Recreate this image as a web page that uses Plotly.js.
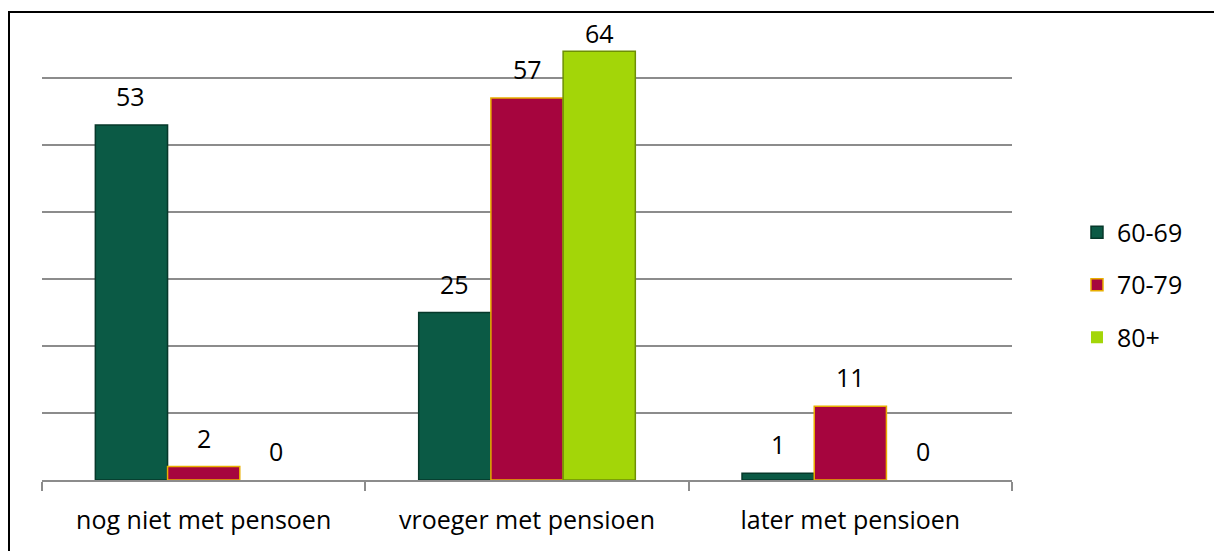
<!DOCTYPE html>
<html>
<head>
<meta charset="utf-8">
<script src="https://cdn.plot.ly/plotly-3.0.1.min.js"></script>
<style>
html,body{margin:0;padding:0;background:#fff;overflow:hidden;}
#frame{position:absolute;left:8px;top:11px;width:1220px;height:560px;border:2px solid #000;box-sizing:border-box;}
#chart{position:absolute;left:0;top:0;width:1214px;height:551px;}
</style>
</head>
<body>
<div id="frame"></div>
<div id="chart"></div>
<script>
const categories = ["nog niet met pensoen", "vroeger met pensioen", "later met pensioen"];
const seriesNames = ["60-69", "70-79", "80+"];
const values6069 = [53, 25, 1];
const values7079 = [2, 57, 11];
const values80 = [0, 64, 0];

const allValues = [values6069, values7079, values80];
const fills = ["#0B5A45", "#A6053E", "#A3D608"];
const outlines = ["#06382A", "#E8AE00", "#6E8F05"];
const FONT = "Open Sans, sans-serif";
const Y_MAX = 70;
const PX_PER_UNIT = 469 / Y_MAX;

const traces = allValues.map((vals, i) => ({
  type: "bar",
  name: seriesNames[i],
  legendgroup: "g" + i,
  x: categories,
  y: vals,
  marker: {color: fills[i], line: {color: outlines[i], width: vals.map(v => v > 0 ? 1.5 : 0)}},
  hoverinfo: "skip"
}));

const annotations = [];
const offsets = [-0.225, 0, 0.225];
allValues.forEach((vals, i) => {
  vals.forEach((v, j) => {
    // labels are kept inside the chart area near the top, as in the original
    const shift = Math.min(10, (Y_MAX - v) * PX_PER_UNIT - 41);
    annotations.push({
      xref: "x", yref: "y", x: j + offsets[i], y: v,
      text: String(v), showarrow: false, yanchor: "bottom", yshift: shift,
      font: {family: FONT, size: 25, color: "#000"}
    });
  });
});

const layout = {
  width: 1214, height: 551,
  margin: {l: 42, r: 202, t: 11, b: 71},
  paper_bgcolor: "rgba(0,0,0,0)",
  plot_bgcolor: "rgba(0,0,0,0)",
  barmode: "group",
  bargap: 0.33,
  bargroupgap: 0,
  font: {family: FONT, size: 25, color: "#000"},
  xaxis: {
    type: "category",
    showline: true, linecolor: "#8c8c8c", linewidth: 2,
    ticks: "outside", tickson: "boundaries", ticklen: 9, tickcolor: "#8c8c8c", tickwidth: 2,
    tickfont: {family: FONT, size: 25, color: "#000"},
    ticklabelstandoff: 17,
    showgrid: false, zeroline: false
  },
  yaxis: {
    range: [0, Y_MAX], dtick: 10, showticklabels: false,
    showgrid: true, gridcolor: "#8c8c8c", gridwidth: 1.5,
    zeroline: false, showline: false, fixedrange: true
  },
  legend: {
    x: 1.067, y: 0.416, xanchor: "left", yanchor: "middle",
    font: {family: FONT, size: 25, color: "#000"},
    tracegroupgap: 17, itemwidth: 30,
    bgcolor: "rgba(0,0,0,0)"
  },
  annotations: annotations,
  showlegend: true
};

Plotly.newPlot("chart", traces, layout, {displayModeBar: false, staticPlot: true});
</script>
</body>
</html>
